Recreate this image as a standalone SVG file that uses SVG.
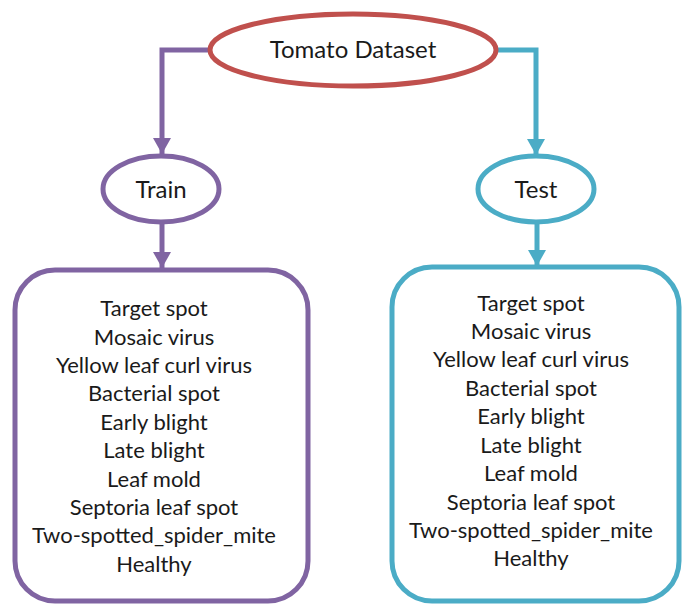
<svg xmlns="http://www.w3.org/2000/svg" width="683" height="605" viewBox="0 0 683 605">
<defs>
<style>
.t{font-family:Lato,"Open Sans","Liberation Sans",sans-serif;fill:#1a1a1a;text-anchor:middle}
.big{font-size:24px}
.item{font-size:22px}
.pur{stroke:#8064A2}
.teal{stroke:#4BACC6}
.n{fill:#fff;stroke-width:5}
.c{fill:none;stroke-width:5}
</style>
<marker id="ap" markerUnits="userSpaceOnUse" markerWidth="20" markerHeight="18" refX="16" refY="9" orient="auto"><path d="M0,0 L16,9 L0,18 Z" fill="#8064A2"/></marker>
<marker id="at" markerUnits="userSpaceOnUse" markerWidth="20" markerHeight="18" refX="16" refY="9" orient="auto"><path d="M0,0 L16,9 L0,18 Z" fill="#4BACC6"/></marker>
</defs>
<rect width="683" height="605" fill="#fff"/>
<g id="connectors">
<path class="c pur" d="M208,50 H162 V154" marker-end="url(#ap)"/>
<path class="c pur" d="M162,224 V268" marker-end="url(#ap)"/>
<path class="c teal" d="M498,50 H536 V155" marker-end="url(#at)"/>
<path class="c teal" d="M537,224 V266" marker-end="url(#at)"/>
</g>
<g id="dataset">
<ellipse class="n" cx="353" cy="50" rx="143" ry="36" stroke="#C0504D"/>
<text class="t big" x="353" y="58">Tomato Dataset</text>
</g>
<g id="train">
<ellipse class="n pur" cx="161" cy="189" rx="58" ry="33"/>
<text class="t big" x="161" y="198">Train</text>
</g>
<g id="test">
<ellipse class="n teal" cx="536" cy="189" rx="58" ry="33"/>
<text class="t big" x="536" y="198">Test</text>
</g>
<g id="train-classes">
<rect class="n pur" x="15" y="270" width="293" height="331" rx="40"/>
<text class="t item" x="154" y="316">Target spot</text>
<text class="t item" x="154" y="345">Mosaic virus</text>
<text class="t item" x="154" y="373">Yellow leaf curl virus</text>
<text class="t item" x="154" y="401">Bacterial spot</text>
<text class="t item" x="154" y="430">Early blight</text>
<text class="t item" x="154" y="458">Late blight</text>
<text class="t item" x="154" y="487">Leaf mold</text>
<text class="t item" x="154" y="515">Septoria leaf spot</text>
<text class="t item" x="154" y="543">Two-spotted_spider_mite</text>
<text class="t item" x="154" y="572">Healthy</text>
</g>
<g id="test-classes">
<rect class="n teal" x="392" y="267" width="287" height="334" rx="40"/>
<text class="t item" x="531" y="311">Target spot</text>
<text class="t item" x="531" y="339">Mosaic virus</text>
<text class="t item" x="531" y="367">Yellow leaf curl virus</text>
<text class="t item" x="531" y="396">Bacterial spot</text>
<text class="t item" x="531" y="424">Early blight</text>
<text class="t item" x="531" y="453">Late blight</text>
<text class="t item" x="531" y="481">Leaf mold</text>
<text class="t item" x="531" y="510">Septoria leaf spot</text>
<text class="t item" x="531" y="538">Two-spotted_spider_mite</text>
<text class="t item" x="531" y="566">Healthy</text>
</g>
</svg>
